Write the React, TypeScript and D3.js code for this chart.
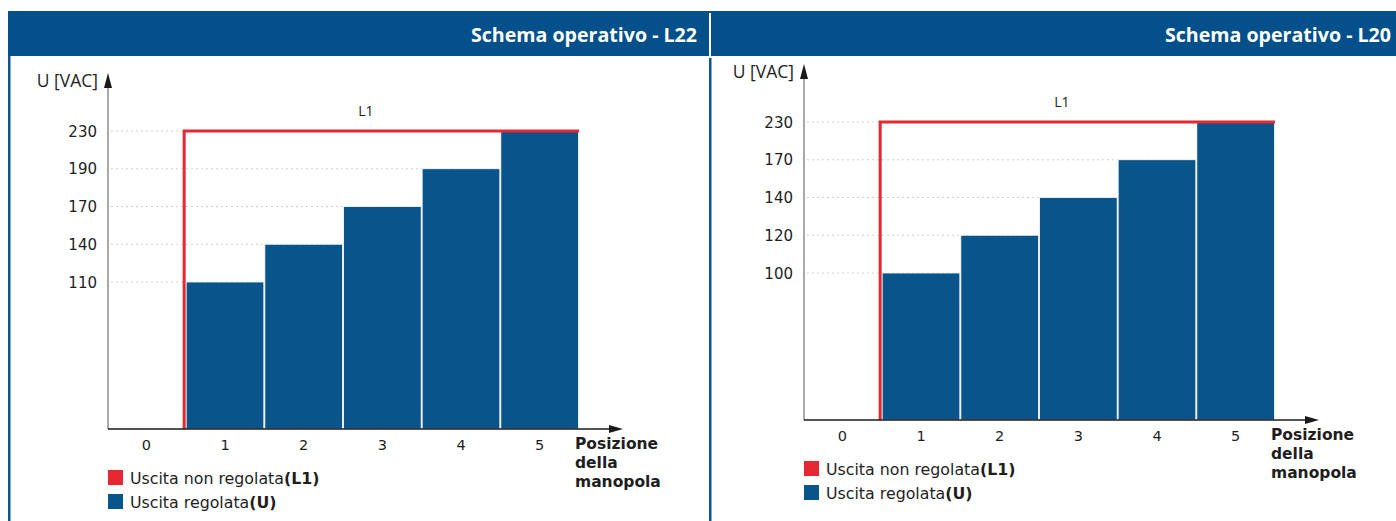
import React from 'react';
import * as d3 from 'd3';

const WIDTH = 1396;
const HEIGHT = 521;

const BLUE_HEAD = '#03508a';
const BLUE_BAR = '#09548a';
const RED = '#e52832';
const TEXT = '#1e1e1e';

// knob positions on the x axis
const positions = [0, 1, 2, 3, 4, 5];

// L22
const l22Ticks = [110, 140, 170, 190, 230];
const l22Values = [0, 110, 140, 170, 190, 230];

// L20
const l20Ticks = [100, 120, 140, 170, 230];
const l20Values = [0, 100, 120, 140, 170, 230];

// unregulated output, same for both
const l1Value = 230;

const Panel = ({ title, ticks, values, axisX, axisY, titleRight }) => {
    // ticks are evenly spaced, not proportional to the voltage
    const tickPos = d3.scalePoint()
        .domain(ticks)
        .range([axisY - 147, axisY - 298]);

    const yScale = d3.scaleLinear()
        .domain([0, ...ticks])
        .range([axisY, ...ticks.map(t => tickPos(t))]);

    const xScale = d3.scaleBand()
        .domain(positions)
        .range([axisX - 1, axisX + 471])
        .paddingInner(0);

    const bw = xScale.bandwidth();
    const xEnd = xScale(5) + bw;
    const redX = xScale(1) - 1.5;
    const redY = yScale(l1Value);

    const redPath = d3.line()([
        [redX, axisY],
        [redX, redY],
        [xEnd, redY]
    ]);

    return (
        <g>
            {/* dotted gridlines */}
            {ticks.map(t => (
                <line key={'g' + t} x1={axisX + 3} x2={xEnd} y1={yScale(t)} y2={yScale(t)}
                    stroke="#d0d0d0" strokeWidth={1} strokeDasharray="2,3" />
            ))}
            {/* bars */}
            {positions.filter(p => values[p] > 0).map(p => (
                <rect key={'b' + p} x={xScale(p) + 0.5} y={yScale(values[p])}
                    width={bw - 1} height={axisY - yScale(values[p])}
                    fill={BLUE_BAR} stroke="#ffffff" strokeWidth={0.8} />
            ))}
            {/* L1 */}
            <path d={redPath} fill="none" stroke={RED} strokeWidth={3} />
            <text x={redX + (xEnd - redX) * 0.46} y={redY - 15} textAnchor="middle"
                fontFamily="Open Sans" fontSize={14} fill={TEXT}>L1</text>

            {/* y axis */}
            <line x1={axisX} x2={axisX} y1={axisY} y2={axisY - 345} stroke="#7a7a7a" strokeWidth={1.3} />
            <path d={`M${axisX - 4},${axisY - 341} L${axisX},${axisY - 356} L${axisX + 4},${axisY - 341} Z`} fill="#1a1a1a" />
            <text x={axisX - 10} y={axisY - 342} textAnchor="end" fontFamily="Open Sans" fontSize={17.5} fill={TEXT}>U [VAC]</text>
            {ticks.map(t => (
                <text key={'t' + t} x={axisX - 11} y={yScale(t) + 5.5} textAnchor="end"
                    fontFamily="DejaVu Sans" fontSize={15} fill={TEXT}>{t}</text>
            ))}

            {/* x axis */}
            <line x1={axisX} x2={xEnd + 32} y1={axisY} y2={axisY} stroke="#1a1a1a" strokeWidth={1.3} />
            <path d={`M${xEnd + 30},${axisY - 4} L${xEnd + 44},${axisY} L${xEnd + 30},${axisY + 4} Z`} fill="#1a1a1a" />
            {positions.map(p => (
                <text key={'x' + p} x={xScale(p) + bw / 2} y={axisY + 21} textAnchor="middle"
                    fontFamily="DejaVu Sans" fontSize={14.5} fill={TEXT}>{p}</text>
            ))}
            <text x={xEnd - 4} y={axisY + 20} fontFamily="DejaVu Sans" fontWeight="bold" fontSize={15.5} fill={TEXT}>
                <tspan x={xEnd - 4}>Posizione</tspan>
                <tspan x={xEnd - 4} dy={19}>della</tspan>
                <tspan x={xEnd - 4} dy={19}>manopola</tspan>
            </text>

            {/* legend */}
            <rect x={axisX} y={axisY + 41} width={15} height={15} fill={RED} />
            <text x={axisX + 22} y={axisY + 55} fontFamily="DejaVu Sans" fontSize={15.8} fill={TEXT}>
                Uscita non regolata<tspan fontWeight="bold">(L1)</tspan>
            </text>
            <rect x={axisX} y={axisY + 65} width={15} height={15} fill={BLUE_BAR} />
            <text x={axisX + 22} y={axisY + 79} fontFamily="DejaVu Sans" fontSize={15.8} fill={TEXT}>
                Uscita regolata<tspan fontWeight="bold">(U)</tspan>
            </text>

            {/* header title */}
            <text x={titleRight} y={42} textAnchor="end" fontFamily="Open Sans" fontWeight="bold"
                fontSize={19.6} fill="#ffffff">{title}</text>
        </g>
    );
};

const App = () => {
    return (
        <svg width={WIDTH} height={HEIGHT} style={{ position: 'absolute', left: 0, top: 0, background: '#fff' }}>
            {/* header band */}
            <rect x={8} y={11} width={WIDTH - 8} height={45} fill={BLUE_HEAD} />
            <rect x={709} y={13} width={2} height={43} fill="#ffffff" />
            {/* panel borders */}
            <rect x={8} y={56} width={2.5} height={HEIGHT - 56} fill="#0b5591" />
            <rect x={709} y={58} width={2.5} height={HEIGHT - 58} fill="#0b5591" />

            <Panel title="Schema operativo - L22" ticks={l22Ticks} values={l22Values}
                axisX={108} axisY={429} titleRight={697} />
            <Panel title="Schema operativo - L20" ticks={l20Ticks} values={l20Values}
                axisX={804} axisY={420} titleRight={1391} />
        </svg>
    );
};

export default App;
